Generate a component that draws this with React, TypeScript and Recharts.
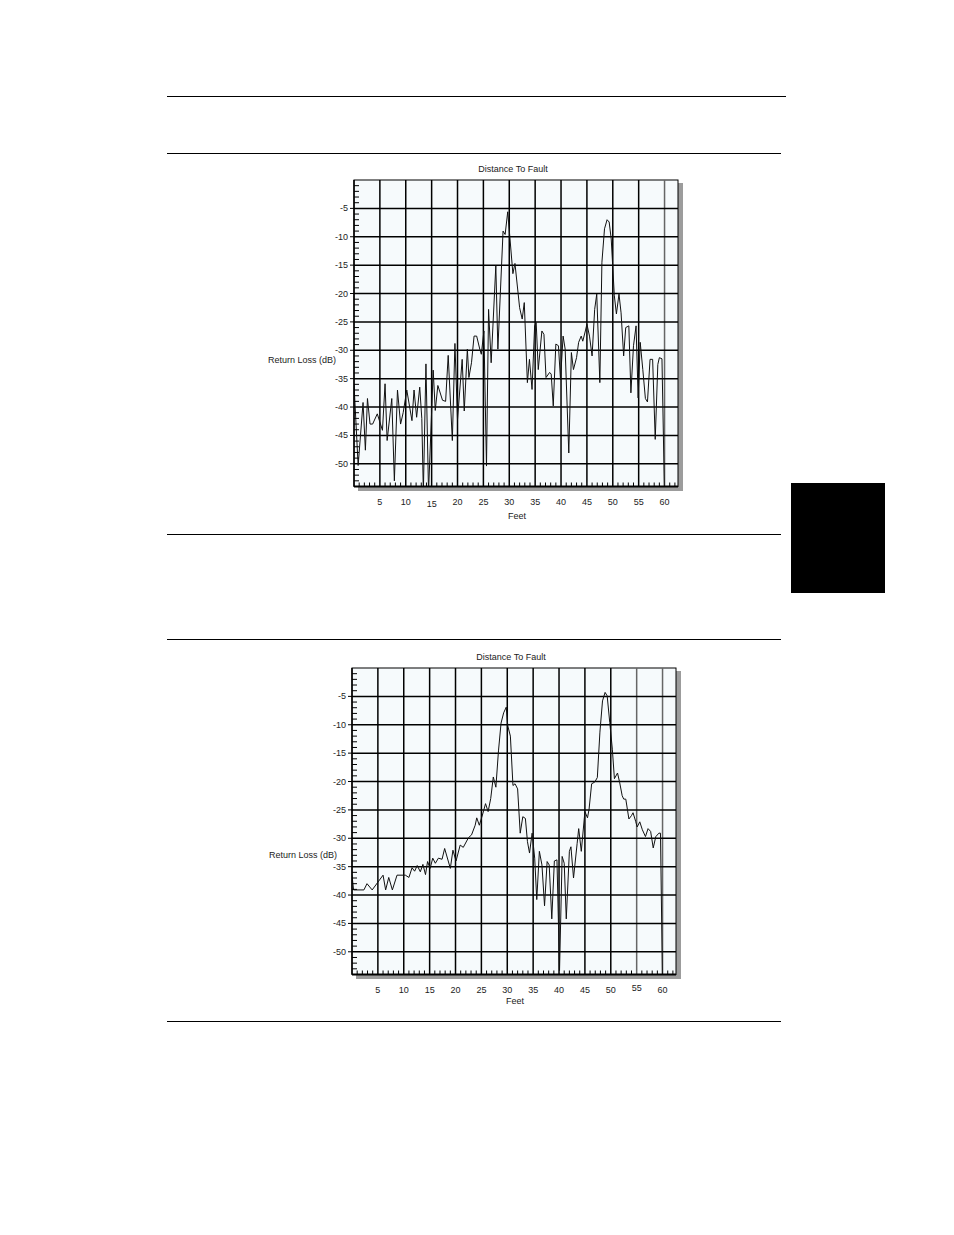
import React from 'react';
import { LineChart, Line, XAxis, YAxis, ReferenceLine } from 'recharts';

// ---------- data ----------
const topFeet = [
  0, 0.8, 1.75, 2.2, 2.6, 3.1, 3.6, 4.5, 5.5, 6.0, 6.4, 7.3, 7.8, 8.4, 9.0, 9.5, 10.2, 11.2, 11.6, 12.1,
  12.7, 13.1, 13.4, 13.9, 14.4, 15.3, 15.7, 16.2, 17.1, 17.7, 18.2, 19.0, 19.5, 20.0, 20.9, 21.3, 21.9, 22.2, 22.7, 23.2,
  23.7, 24.3, 24.6, 25.1, 25.6, 26.0, 26.5, 27.4, 27.8, 28.8, 29.2, 29.7, 30.7, 31.1, 32.0, 32.5, 32.9, 33.5, 33.9, 34.4,
  34.9, 35.2, 35.6, 36.3, 36.7, 37.1, 37.8, 38.1, 38.5, 39.0, 39.5, 39.9, 40.4, 40.8, 41.5, 42.0, 42.4, 43.0, 43.4, 43.9,
  44.2, 44.7, 45.0, 45.5, 46.0, 46.5, 46.9, 47.5, 47.9, 48.4, 48.9, 49.3, 49.7, 50.3, 50.7, 51.2, 51.6, 52.1, 52.5, 53.1,
  53.5, 54.0, 54.5, 54.9, 55.3, 55.8, 56.3, 56.7, 57.2, 57.7, 58.2, 58.7, 59.0, 59.5, 60.0,
];
const topDb = [
  -36, -50.3, -39.2, -47.6, -38.5, -43, -43, -41.2, -44.1, -35.9, -45.9, -38.5, -53, -37, -43, -41, -37, -42.4, -37, -41.8,
  -36.5, -42, -55, -32.4, -55, -33.5, -40.6, -36.2, -38.8, -39, -30.9, -45.9, -28.8, -42.2, -31.6, -40.7, -29.8, -34.8, -32.2, -27.5,
  -27.5, -29.8, -30.7, -26.6, -50.4, -22.8, -32.2, -15.1, -29.8, -9.0, -9.6, -5.6, -16.5, -14.7, -22.5, -24.5, -21.6, -35.7, -31.6, -36.9,
  -25.7, -25.1, -33.4, -26.6, -27.2, -34.8, -33.9, -34.2, -39.8, -28.9, -29.2, -35.2, -27.5, -29.8, -48.1, -30.4, -33.4, -31.3, -28.6, -27.5,
  -28.4, -26.6, -25.4, -27.5, -31, -22.8, -20.1, -35.7, -14.5, -8.6, -7.0, -7.4, -10.4, -20.4, -23.6, -20.1, -23.4, -31, -26, -25.7,
  -37.5, -29.2, -25.7, -38.4, -28.6, -33.4, -38.5, -39.1, -31.6, -31.6, -45.7, -32.5, -31.3, -31.5, -56,
];

const botFeet = [
  0, 0.3, 2.3, 2.9, 3.9, 6.0, 6.5, 7.1, 7.8, 8.7, 10.3, 11.0, 11.6, 12.1, 12.6, 13.2, 13.7, 14.2, 14.6, 15.1,
  15.6, 16.1, 16.7, 17.4, 17.9, 19.0, 19.5, 20.1, 20.9, 21.5, 22.5, 23.1, 23.8, 24.1, 24.6, 25.2, 25.8, 26.3, 26.8, 27.3,
  27.8, 28.3, 28.8, 29.3, 29.8, 30.1, 30.6, 31.1, 31.5, 32.0, 32.5, 33.0, 33.5, 33.9, 34.3, 34.8, 35.3, 35.7, 36.2, 36.7,
  37.2, 37.7, 38.1, 38.6, 39.1, 39.6, 40.1, 40.6, 41.0, 41.4, 42.0, 42.3, 42.8, 43.5, 43.8, 44.3, 45.0, 45.5, 45.8, 46.3,
  46.9, 47.4, 47.9, 48.4, 48.9, 49.3, 49.8, 50.3, 50.7, 51.3, 51.7, 52.2, 52.5, 52.9, 53.5, 54.0, 54.3, 54.8, 55.1, 55.6,
  56.1, 56.7, 57.2, 57.7, 58.2, 58.7, 59.3, 59.6, 60.0,
];
const botDb = [
  -36.5, -39.1, -39.1, -38, -39.1, -36.5, -39.1, -36.9, -39.1, -36.5, -36.5, -36.9, -35.2, -35.8, -34.8, -35.9, -34.6, -36.4, -34.1, -35.3,
  -33.5, -34.4, -33.5, -33.7, -31.8, -35.3, -32.1, -34, -31.2, -31.6, -29.9, -29.4, -27.7, -26.4, -27.7, -25.9, -23.9, -25.3, -23.0, -19.2,
  -21, -14.6, -9.7, -7.9, -6.9, -10.2, -12, -20.7, -20.4, -21.3, -29.1, -26.2, -26.5, -30.6, -32.6, -29.1, -33.5, -40.8, -32.3, -34.7,
  -41.9, -34.1, -34.7, -44.2, -34, -33.8, -53.3, -33.2, -34.4, -44.2, -32.3, -31.5, -37, -30.9, -28.3, -32.3, -25.3, -26.4, -24.9, -20.4,
  -20.1, -19.3, -11.3, -5.8, -4.3, -4.9, -9.6, -14.3, -19.5, -18.5, -20.1, -22.5, -23.1, -23.1, -26.6, -26, -25.5, -27, -28, -27.1,
  -28.5, -29.7, -28.3, -28.8, -31.7, -29.7, -29.1, -29.1, -56,
];

const xLabels = [5, 10, 15, 20, 25, 30, 35, 40, 45, 50, 55, 60];
const yLabels = [-5, -10, -15, -20, -25, -30, -35, -40, -45, -50];
const xMinor = Array.from({ length: 62 }, (_, i) => i + 1);
const yMinor = Array.from({ length: 53 }, (_, i) => -(i + 1));

const TITLE = 'Distance To Fault';
const XTITLE = 'Feet';
const YTITLE = 'Return Loss (dB)';

const FONT = '"Liberation Sans", Arial, Helvetica, sans-serif';

const topData = topFeet.map((f, i) => ({ ft: f, db: topDb[i] }));
const botData = botFeet.map((f, i) => ({ ft: f, db: botDb[i] }));

// ---------- chart ----------
const CW = 400;
const CH = 350;
const M = { top: 10, right: 22, left: 0, bottom: 3.5 };
const YW = 54;
const XH = 30;
const PW = CW - YW - M.left - M.right; // 324
const PH = CH - M.top - M.bottom - XH; // 306.5

type ChartProps = {
  data: { ft: number; db: number }[];
  left: number;
  top: number;
  dim: number[];
  nudge: Record<number, number>;
  yLabelDx: number;
  yLabelDy: number;
  feetDy: number;
};

function DtfChart({ data, left, top, dim, nudge, yLabelDx, yLabelDy, feetDy }: ChartProps) {
  const pl = left + YW + M.left;
  const pt = top + M.top;
  const pr = pl + PW;
  const pb = pt + PH;

  const XTick = (props: any) => {
    const { x, y, payload } = props;
    const v = payload.value;
    if (v % 5 === 0) {
      return (
        <text x={x} y={y + 18 + (nudge[v] || 0)} textAnchor="middle" fontSize={9} fill="#222" fontFamily={FONT}>
          {v}
        </text>
      );
    }
    return <line x1={x} x2={x} y1={y} y2={y - 4} stroke="#000" strokeWidth={1} />;
  };

  const YTick = (props: any) => {
    const { x, y, payload } = props;
    const v = payload.value;
    if (v % 5 === 0) {
      return (
        <g>
          <line x1={x - 4} x2={x} y1={y} y2={y} stroke="#000" strokeWidth={1} />
          <text x={x - 6} y={y + 3} textAnchor="end" fontSize={9} fill="#222" fontFamily={FONT}>
            {v}
          </text>
        </g>
      );
    }
    return <line x1={x} x2={x + 5} y1={y} y2={y} stroke="#000" strokeWidth={1} />;
  };

  return (
    <>
      <svg style={{ position: 'absolute', left: 0, top: 0 }} width={954} height={1235}>
        <rect x={pl + 4} y={pt + 3} width={PW + 1} height={PH + 1.5} fill="#9c9c9c" />
        <rect x={pl} y={pt} width={PW} height={PH} fill="#f6fafc" stroke="#000" strokeWidth={1} />
        <text x={(pl + pr) / 2 - 3} y={pt - 8} textAnchor="middle" fontSize={9} fill="#222" fontFamily={FONT}>
          {TITLE}
        </text>
        <text x={pl + yLabelDx} y={pt + yLabelDy} textAnchor="end" fontSize={9} fill="#222" fontFamily={FONT}>
          {YTITLE}
        </text>
        <text x={(pl + pr) / 2 + 1} y={pb + feetDy} textAnchor="middle" fontSize={9} fill="#222" fontFamily={FONT}>
          {XTITLE}
        </text>
      </svg>
      <div style={{ position: 'absolute', left, top, width: CW, height: CH }}>
        <LineChart width={CW} height={CH} data={data} margin={M}>
          <XAxis
            type="number"
            dataKey="ft"
            domain={[0, 62.6]}
            allowDataOverflow
            ticks={xMinor}
            interval={0}
            tickSize={0}
            tickMargin={0}
            tick={XTick}
            height={XH}
            axisLine={{ stroke: '#000', strokeWidth: 2 }}
          />
          <YAxis
            type="number"
            dataKey="db"
            domain={[-54, 0]}
            allowDataOverflow
            ticks={yMinor}
            interval={0}
            tickSize={0}
            tickMargin={0}
            tick={YTick}
            width={YW}
            axisLine={{ stroke: '#000', strokeWidth: 1.5 }}
          />
          {xLabels.map((v) => (
            <ReferenceLine key={'vx' + v} x={v} stroke={dim.includes(v) ? '#666' : '#000'} strokeWidth={1.5} />
          ))}
          {yLabels.map((v) => (
            <ReferenceLine key={'hy' + v} y={v} stroke="#000" strokeWidth={1.5} />
          ))}
          <Line
            type="linear"
            dataKey="db"
            stroke="#111"
            strokeWidth={1}
            dot={false}
            activeDot={false}
            isAnimationActive={false}
          />
        </LineChart>
      </div>
    </>
  );
}

export default function App() {
  return (
    <div style={{ position: 'absolute', left: 0, top: 0, width: 954, height: 1235, background: '#fff', fontFamily: FONT }}>
      <svg style={{ position: 'absolute', left: 0, top: 0 }} width={954} height={1235}>
        <line x1={167} x2={786} y1={96.5} y2={96.5} stroke="#000" strokeWidth={1} />
        <line x1={167} x2={781} y1={153.5} y2={153.5} stroke="#000" strokeWidth={1} />
        <line x1={167} x2={781} y1={534.5} y2={534.5} stroke="#000" strokeWidth={1} />
        <line x1={167} x2={781} y1={639.5} y2={639.5} stroke="#000" strokeWidth={1} />
        <line x1={167} x2={781} y1={1021.5} y2={1021.5} stroke="#000" strokeWidth={1} />
        <rect x={791} y={483} width={94} height={110} fill="#000" />
      </svg>
      <DtfChart
        data={topData}
        left={300}
        top={170}
        dim={[60]}
        nudge={{ 15: 2 }}
        yLabelDx={-18}
        yLabelDy={183}
        feetDy={32}
      />
      <DtfChart
        data={botData}
        left={298}
        top={658}
        dim={[55, 60]}
        nudge={{ 55: -2 }}
        yLabelDx={-15}
        yLabelDy={190}
        feetDy={29}
      />
    </div>
  );
}
